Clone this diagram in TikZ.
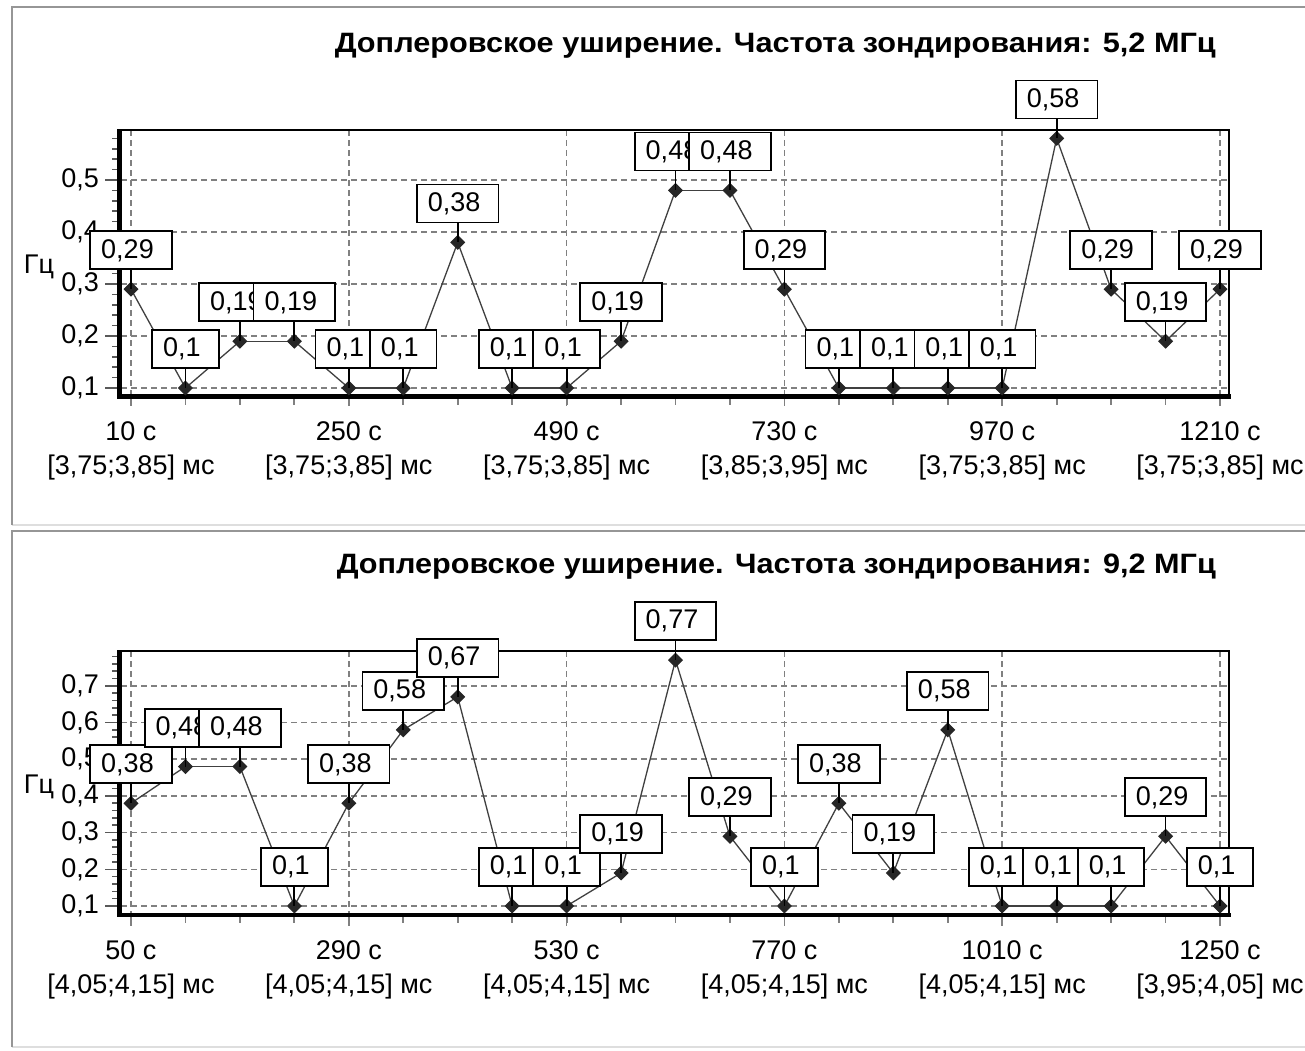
\documentclass[tikz,border=0pt]{standalone}
\usepackage{fontspec}
\setmainfont{Liberation Sans}
\usetikzlibrary{shapes.geometric}
\definecolor{gridgray}{RGB}{128,128,128}
\definecolor{frameDk}{RGB}{150,150,150}
\definecolor{frameLt}{RGB}{222,222,222}
\tikzset{
  txt/.style={font=\fontsize{27}{32}\selectfont, inner sep=0pt},
  titlef/.style={font=\fontsize{28}{32}\selectfont\bfseries, inner sep=0pt},
  frameD/.style={draw=frameDk, line width=2.4pt},
  frameL/.style={draw=frameLt, line width=2.4pt},
  gridln/.style={draw=gridgray, line width=1.6pt, dash pattern=on 6pt off 4pt},
  tickln/.style={draw=black!65, line width=1.6pt},
  xtickln/.style={draw=gridgray, line width=1.8pt},
  axisthick/.style={draw=black, line width=4.5pt},
  axisthin/.style={draw=black, line width=2.4pt},
  dataln/.style={draw=black!75, line width=1.3pt},
  stemln/.style={draw=black, line width=1.8pt},
  dotmk/.style={diamond, fill=black!85, draw=black!85, line width=1pt, minimum size=14pt, inner sep=0pt},
  lbox/.style={txt, draw=black, line width=1.8pt, fill=white, minimum height=38pt, inner sep=0pt, anchor=south},
}
% #1 prefix, #2 y of 0.1, #3 px per unit, #4 top, #5 bottom,
% #6 y tick list, #7 data list, #8 x label list, #9 minor tick count
\newcommand\drawpanel[9]{%
  % horizontal grid and major y ticks
  \foreach \vv/\lab [count=\n from 0] in {#6} {
    \pgfmathsetmacro\yy{#2-(\vv-0.1)*#3}
    \draw[gridln] (121,\yy) -- (1228,\yy);
    \draw[tickln] (105,\yy) -- (119,\yy);
    \node[txt, anchor=east] (#1y\n) at (99,\yy) {\lab};
  }
  % minor y ticks
  \foreach \k in {0,...,#9} {
    \pgfmathsetmacro\yy{#2-0.02*\k*#3}
    \draw[tickln] (112,\yy) -- (119,\yy);
  }
  % x ticks at every sample
  \foreach \k in {0,...,20} {
    \pgfmathsetmacro\xx{131+54.45*\k}
    \draw[xtickln] (\xx,#5) -- (\xx,#5+8);
  }
  % vertical grid and x labels
  \foreach \secs/\rng [count=\n from 0] in {#8} {
    \pgfmathsetmacro\xx{131+54.45*4*\n}
    \draw[gridln] (\xx,#4) -- (\xx,#5+11);
    \node[txt] (#1xs\n) at (\xx,#5+35) {\secs~с};
    \node[txt] (#1xr\n) at (\xx,#5+71) {[\rng]~мс};
  }
  % plot frame
  \draw[axisthin] (119,#4) -- (1229,#4) -- (1229,#5);
  \draw[axisthick] (119.5,#4-1) -- (119.5,#5+2);
  \draw[axisthick] (117,#5) -- (1231,#5);
  % data coordinates
  \foreach \vv/\lab [count=\n from 0] in {#7} {
    \pgfmathsetmacro\xx{131+54.45*\n}
    \pgfmathsetmacro\yy{#2-(\vv-0.1)*#3}
    \coordinate (#1a\n) at (\xx,\yy);
  }
  \foreach \n in {1,...,20} {
    \pgfmathtruncatemacro\m{\n-1}
    \draw[dataln] (#1a\m) -- (#1a\n);
  }
  \foreach \n in {0,...,20} {
    \node[dotmk] (#1m\n) at (#1a\n) {};
  }
  % value labels
  \foreach \vv/\lab [count=\n from 0] in {#7} {
    \pgfmathsetmacro\xx{131+54.45*\n}
    \pgfmathsetmacro\yy{#2-(\vv-0.1)*#3-19}
    \node[lbox] (#1l\n) at (\xx,\yy) {\hspace*{11pt}\lab\hspace*{18pt}};
    \draw[stemln] (#1l\n.south) -- (#1a\n);
  }
}
\begin{document}
\begin{tikzpicture}[x=1pt,y=-1pt]
\useasboundingbox (0,0) rectangle (1305,1050);
\fill[white] (0,0) rectangle (1305,1050);
% panel frames
\draw[frameL] (12,525) -- (1306,525);
\draw[frameD] (12,525) -- (12,7) -- (1306,7);
\draw[frameL] (12,1047) -- (1306,1047);
\draw[frameD] (12,1047) -- (12,531) -- (1306,531);
% titles
\node[titlef, anchor=base east] (Atitle) at (1216,52)
  {\resizebox{881pt}{\height}{Доплеровское уширение. Частота зондирования: 5,2 МГц}};
\node[titlef, anchor=base east] (Btitle) at (1216,573)
  {\resizebox{879pt}{\height}{Доплеровское уширение. Частота зондирования: 9,2 МГц}};
% axis unit labels
\node[txt] (Ahz) at (39,267) {Гц};
\node[txt] (Bhz) at (39,787) {Гц};
% panel 1
\drawpanel{A}{388}{520}{130}{396.5}
  {0.1/{0,1},0.2/{0,2},0.3/{0,3},0.4/{0,4},0.5/{0,5}}
  {0.29/{0,29},0.1/{0,1},0.19/{0,19},0.19/{0,19},0.1/{0,1},0.1/{0,1},0.38/{0,38},0.1/{0,1},0.1/{0,1},0.19/{0,19},0.48/{0,48},0.48/{0,48},0.29/{0,29},0.1/{0,1},0.1/{0,1},0.1/{0,1},0.1/{0,1},0.58/{0,58},0.29/{0,29},0.19/{0,19},0.29/{0,29}}
  {10/{3,75;3,85},250/{3,75;3,85},490/{3,75;3,85},730/{3,85;3,95},970/{3,75;3,85},1210/{3,75;3,85}}
  {24}
% panel 2
\drawpanel{B}{906}{367}{651}{915}
  {0.1/{0,1},0.2/{0,2},0.3/{0,3},0.4/{0,4},0.5/{0,5},0.6/{0,6},0.7/{0,7}}
  {0.38/{0,38},0.48/{0,48},0.48/{0,48},0.1/{0,1},0.38/{0,38},0.58/{0,58},0.67/{0,67},0.1/{0,1},0.1/{0,1},0.19/{0,19},0.77/{0,77},0.29/{0,29},0.1/{0,1},0.38/{0,38},0.19/{0,19},0.58/{0,58},0.1/{0,1},0.1/{0,1},0.1/{0,1},0.29/{0,29},0.1/{0,1}}
  {50/{4,05;4,15},290/{4,05;4,15},530/{4,05;4,15},770/{4,05;4,15},1010/{4,05;4,15},1250/{3,95;4,05}}
  {34}
\end{tikzpicture}
\end{document}
